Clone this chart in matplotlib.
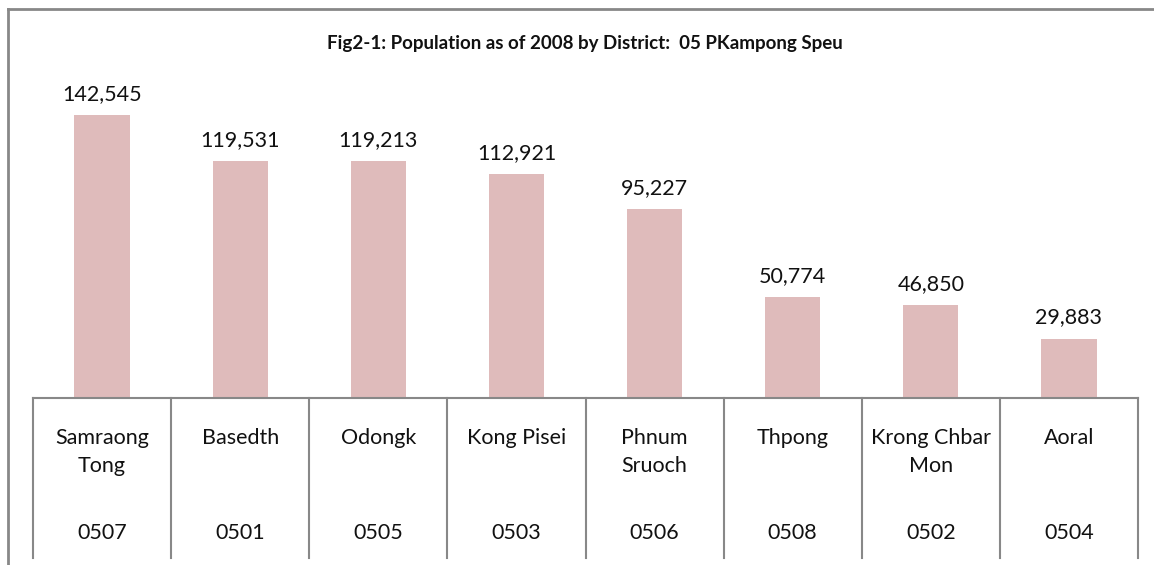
import matplotlib.pyplot as plt
from matplotlib.lines import Line2D

# district data
districts = ["Samraong\nTong", "Basedth", "Odongk", "Kong Pisei", "Phnum\nSruoch",
             "Thpong", "Krong Chbar\nMon", "Aoral"]
codes = ["0507", "0501", "0505", "0503", "0506", "0508", "0502", "0504"]
population = [142545, 119531, 119213, 112921, 95227, 50774, 46850, 29883]

plt.rcParams['font.family'] = ['Lato', 'DejaVu Sans']

W, H = 1154, 565
fig = plt.figure(figsize=(W / 100, H / 100), dpi=100)
ax = fig.add_axes([33 / W, 1 - 398 / H, (1138 - 33) / W, 317.6 / H])

x = list(range(len(population)))
bars = ax.bar(x, population, width=0.4, color='#DFBBBB')
ax.set_xlim(-0.5, len(population) - 0.5)
ax.set_ylim(0, 160000)

for b, v in zip(bars, population):
    ax.annotate(f"{v:,}", xy=(b.get_x() + b.get_width() / 2, v),
                xytext=(0, 8), textcoords='offset points',
                ha='center', va='bottom', fontsize=15.5, color='#111111')

# only the bottom axis line, no ticks
for s in ['left', 'right', 'top']:
    ax.spines[s].set_visible(False)
ax.spines['bottom'].set_color('#888888')
ax.spines['bottom'].set_linewidth(1.5)
ax.set_xticks([])
ax.set_yticks([])

# category table under the axis
tr = ax.get_xaxis_transform()
for i in range(len(population) + 1):
    ax.add_line(Line2D([i - 0.5, i - 0.5], [0, -0.504], transform=tr,
                       color='#888888', lw=1.5, clip_on=False))
for i, (name, code) in enumerate(zip(districts, codes)):
    ax.text(i, -0.095, name, transform=tr, ha='center', va='top',
            fontsize=15.5, linespacing=1.5, color='#111111')
    ax.text(i, -0.425, code, transform=tr, ha='center', va='center',
            fontsize=15.5, color='#111111')

fig.text(585 / W, 1 - 44 / H, "Fig2-1: Population as of 2008 by District:  05 PKampong Speu",
         ha='center', va='center', fontsize=13.5, fontweight='bold', color='#111111')

# outer chart border (top and left edges visible)
fig.add_artist(Line2D([8 / W, 1], [1 - 9 / H, 1 - 9 / H], transform=fig.transFigure,
                      color='#888888', lw=2))
fig.add_artist(Line2D([8 / W, 8 / W], [0, 1 - 9 / H], transform=fig.transFigure,
                      color='#888888', lw=2))

fig.savefig('out.png', dpi=100)
